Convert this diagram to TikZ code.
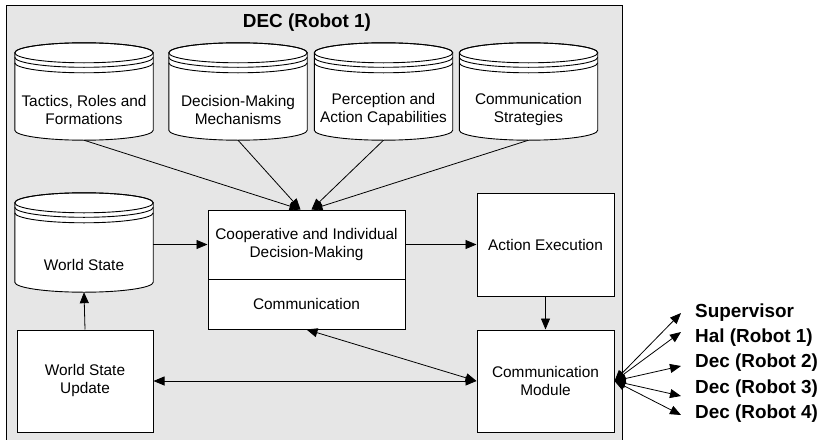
\documentclass[tikz,border=0pt]{standalone}
\usepackage{fontspec}
\setmainfont{Liberation Sans}
\usetikzlibrary{arrows.meta,calc}
\definecolor{panel}{HTML}{E6E6E6}
\newcommand\drawcyl[1]{%
  \path[cylline] let \p1=(#1.north west), \p2=(#1.south east), \n1={(\x2-\x1)/2} in
    (\x1,\y1-10pt) arc[start angle=180,end angle=0,x radius={\n1*1pt},y radius=10pt]
    -- (\x2,\y2+10pt) arc[start angle=0,end angle=-180,x radius={\n1*1pt},y radius=10pt] -- cycle;
  \draw[cylstroke] let \p1=(#1.north west), \p2=(#1.south east), \n1={(\x2-\x1)/2} in
    (\x1,\y1-10pt) arc[start angle=180,end angle=-180,x radius={\n1*1pt},y radius=10pt]
    (\x1,\y1-14.5pt) arc[start angle=180,end angle=360,x radius={\n1*1pt},y radius=10pt]
    (\x1,\y1-20pt) arc[start angle=180,end angle=360,x radius={\n1*1pt},y radius=10pt];
}
\begin{document}
\begin{tikzpicture}[x=1pt,y=-1pt,
  font=\fontsize{15.4}{18}\selectfont,
  box/.style={draw=black,line width=1pt,fill=white,align=center,inner sep=0pt},
  cylbox/.style={draw=none,inner sep=0pt,minimum width=138pt,minimum height=97pt},
  txt/.style={align=center,inner sep=0pt},
  lbl/.style={font=\fontsize{18.9}{22}\selectfont\bfseries,anchor=west,inner sep=0pt},
  cylline/.style={draw=black,line width=0.9pt,fill=white},
  cylstroke/.style={draw=black,line width=0.9pt},
  conn/.style={line width=0.8pt,-{Triangle[length=11pt,width=9pt]}},
  conn2/.style={line width=0.8pt,{Triangle[length=11pt,width=9pt]}-{Triangle[length=11pt,width=9pt]}},
]
\useasboundingbox (0,0) rectangle (821,439);
\draw[fill=panel,line width=1pt] (6.5,5.5) rectangle (622.5,442);
\node[font=\fontsize{18.9}{22}\selectfont\bfseries,inner sep=0pt] (title) at (307,23) {DEC (Robot 1)};

% cylinders
\node[cylbox] (c1) at (84,91.5) {};
\node[cylbox] (c2) at (238,91.5) {};
\node[cylbox] (c3) at (383.5,91.5) {};
\node[cylbox] (c4) at (528.5,91.5) {};
\node[cylbox,minimum height=99pt] (ws) at (84,242.5) {};
\drawcyl{c1}\drawcyl{c2}\drawcyl{c3}\drawcyl{c4}\drawcyl{ws}
\node[txt] (c1t) at (84,110) {Tactics, Roles and\\Formations};
\node[txt] (c2t) at (238,110) {Decision-Making\\Mechanisms};
\node[txt] (c3t) at (383.5,110) {Perception and\\Action Capabilities};
\node[txt] (c4t) at (528.5,110) {Communication\\Strategies};
\node[txt] (wst) at (84,265) {World State};

% boxes
\node[box,minimum width=197pt,minimum height=69pt] (dm) at (306.5,244.5) {Cooperative and Individual\\Decision-Making};
\node[box,minimum width=197pt,minimum height=50pt] (comm) at (306.5,304) {Communication};
\node[box,minimum width=137pt,minimum height=103pt] (ae) at (545.5,244.5) {Action Execution};
\node[box,minimum width=137pt,minimum height=102pt] (cm) at (545.5,381) {Communication\\Module};
\node[box,minimum width=136pt,minimum height=102pt] (wsu) at (85,381) {World State\\Update};

% connectors
\coordinate (inL) at ($(dm.north)+(-6,0)$);
\coordinate (inR) at ($(dm.north)+(5,0)$);
\draw[conn] (c1.south) -- (inL);
\draw[conn] (c2.south) -- (inL);
\draw[conn] (c3.south) -- (inR);
\draw[conn] (c4.south) -- (inR);
\draw[conn] (ws.east |- dm.west) -- (dm.west);
\draw[conn] (dm.east) -- (ae.west);
\draw[conn] (ae.south) -- (cm.north);
\draw[conn] (wsu.north) -- (ws.south);
\draw[conn2] (wsu.east) -- (cm.west);
\draw[conn2] (comm.south) -- (cm.west);

% external targets
\node[lbl] (sup) at (695,313) {Supervisor};
\node[lbl] (hal) at (695,338) {Hal (Robot 1)};
\node[lbl] (d2) at (695,363) {Dec (Robot 2)};
\node[lbl] (d3) at (695,389) {Dec (Robot 3)};
\node[lbl] (d4) at (695,414) {Dec (Robot 4)};
\coordinate (tsup) at (681,313);
\coordinate (thal) at (681,332);
\coordinate (td2) at (681,366);
\coordinate (td3) at (681,396);
\coordinate (td4) at (681,415);
\draw[conn2] (cm.east) -- (tsup);
\draw[conn2] (cm.east) -- (thal);
\draw[conn2] (cm.east) -- (td2);
\draw[conn2] (cm.east) -- (td3);
\draw[conn2] (cm.east) -- (td4);
\end{tikzpicture}
\end{document}
